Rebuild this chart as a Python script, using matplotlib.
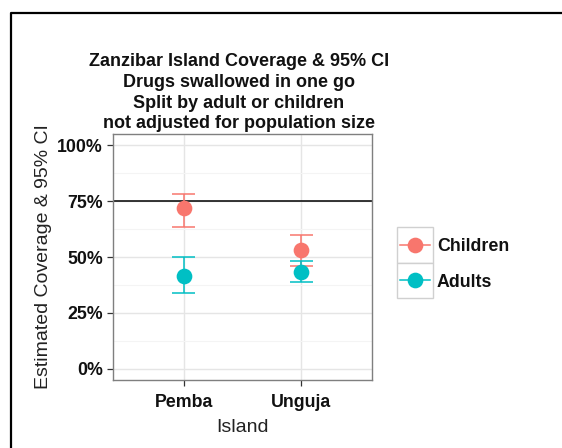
import matplotlib
matplotlib.use("Agg")
import matplotlib.pyplot as plt
from matplotlib.lines import Line2D
from matplotlib.patches import Rectangle
from matplotlib.ticker import MultipleLocator, FuncFormatter

plt.rcParams["font.family"] = ["Liberation Sans", "DejaVu Sans"]

# Coverage estimates (proportion) with 95% confidence limits
islands = ["Pemba", "Unguja"]
groups = ["Children", "Adults"]
colors = ["#F8766D", "#00BFC4"]
estimate = {"Children": [0.72, 0.533], "Adults": [0.415, 0.434]}
lower = {"Children": [0.634, 0.458], "Adults": [0.339, 0.387]}
upper = {"Children": [0.781, 0.60], "Adults": [0.498, 0.484]}
target = 0.75
title_lines = [
    "Zanzibar Island Coverage & 95% CI",
    "Drugs swallowed in one go",
    "Split by adult or children",
    "not adjusted for population size",
]

W, H = 562, 448
fig = plt.figure(figsize=(W / 100, H / 100), dpi=100)
fig.patch.set_facecolor("white")

def px(x0, y0, w, h):
    return [x0 / W, 1 - (y0 + h) / H, w / W, h / H]

ax = fig.add_axes(px(113, 134, 259, 246))
ax.set_facecolor("white")

xpos = list(range(1, len(islands) + 1))
ax.set_xlim(0.4, len(islands) + 0.6)
ax.set_ylim(-0.05, 1.05)

# grid
ax.yaxis.set_major_locator(MultipleLocator(0.25))
ax.yaxis.set_minor_locator(MultipleLocator(0.125))
ax.set_xticks(xpos)
ax.set_xticklabels(islands)
ax.grid(True, which="major", color="#E5E5E5", lw=1.0, zorder=0)
ax.grid(True, which="minor", axis="y", color="#F4F4F4", lw=0.8, zorder=0)
ax.set_axisbelow(True)
ax.tick_params(which="minor", length=0)
ax.tick_params(which="major", length=4.3, width=0.9, color="#333333",
               labelsize=12.8)
ax.tick_params(axis="x", pad=5.5)
ax.tick_params(axis="y", pad=2.9)
ax.yaxis.set_major_formatter(FuncFormatter(lambda v, p: f"{v * 100:.0f}%"))
for lab in ax.get_xticklabels() + ax.get_yticklabels():
    lab.set_fontweight("bold")
    lab.set_color("#111111")
for s in ax.spines.values():
    s.set_color("#7F7F7F")
    s.set_linewidth(1.0)

# target line
ax.axhline(target, color="black", lw=1.1, zorder=2)

# error bars and points
cap = 0.1
for g, c in zip(groups, colors):
    ax.vlines(xpos, lower[g], upper[g], color=c, lw=1.1, zorder=3)
    ax.hlines(lower[g], [x - cap for x in xpos], [x + cap for x in xpos],
              color=c, lw=1.1, zorder=3)
    ax.hlines(upper[g], [x - cap for x in xpos], [x + cap for x in xpos],
              color=c, lw=1.1, zorder=3)
    ax.plot(xpos, estimate[g], "o", color=c, ms=11.3, mec="none", zorder=4)

ax.set_xlabel("Island", fontsize=14, color="#222222")
ax.xaxis.set_label_coords((242 - 113) / 259, (380 - 431.7) / 246)
ax.xaxis.label.set_va("baseline")
ax.set_ylabel("Estimated Coverage & 95% CI", fontsize=14, color="#222222")
ax.yaxis.set_label_coords((48.3 - 113) / 259, 0.5)
ax.yaxis.label.set_va("baseline")

# title, one line at a time
for i, line in enumerate(title_lines):
    fig.text(239 / W, 1 - (66.5 + 20.5 * i) / H, line, ha="center",
             va="baseline", fontsize=13, fontweight="bold", color="#111111")

# legend with boxed keys
kx, ky, kw, kh = 397, 227, 36, 35.5
for i, (g, c) in enumerate(zip(groups, colors)):
    y0 = ky + i * kh
    fig.add_artist(Rectangle((kx / W, 1 - (y0 + kh) / H), kw / W, kh / H,
                             transform=fig.transFigure, facecolor="white",
                             edgecolor="#D0D0D0", lw=1.0))
    yc = 1 - (y0 + kh / 2) / H
    fig.add_artist(Line2D([(kx + 3) / W, (kx + kw - 3) / W], [yc, yc],
                          transform=fig.transFigure, color=c, lw=1.1))
    fig.add_artist(Line2D([(kx + kw / 2) / W], [yc], marker="o", ms=11.3,
                          mec="none", color=c, transform=fig.transFigure))
    fig.text((kx + kw + 4) / W, 1 - (y0 + kh / 2 + 6.6) / H, g, ha="left",
             va="baseline", fontsize=12.8, fontweight="bold", color="#111111")

# document frame
fig.add_artist(Line2D([10.5 / W, 10.5 / W, 1.0], [0.0, 1 - 13.5 / H, 1 - 13.5 / H],
                      transform=fig.transFigure, color="black", lw=1.6))

fig.savefig("out.png", dpi=100)
